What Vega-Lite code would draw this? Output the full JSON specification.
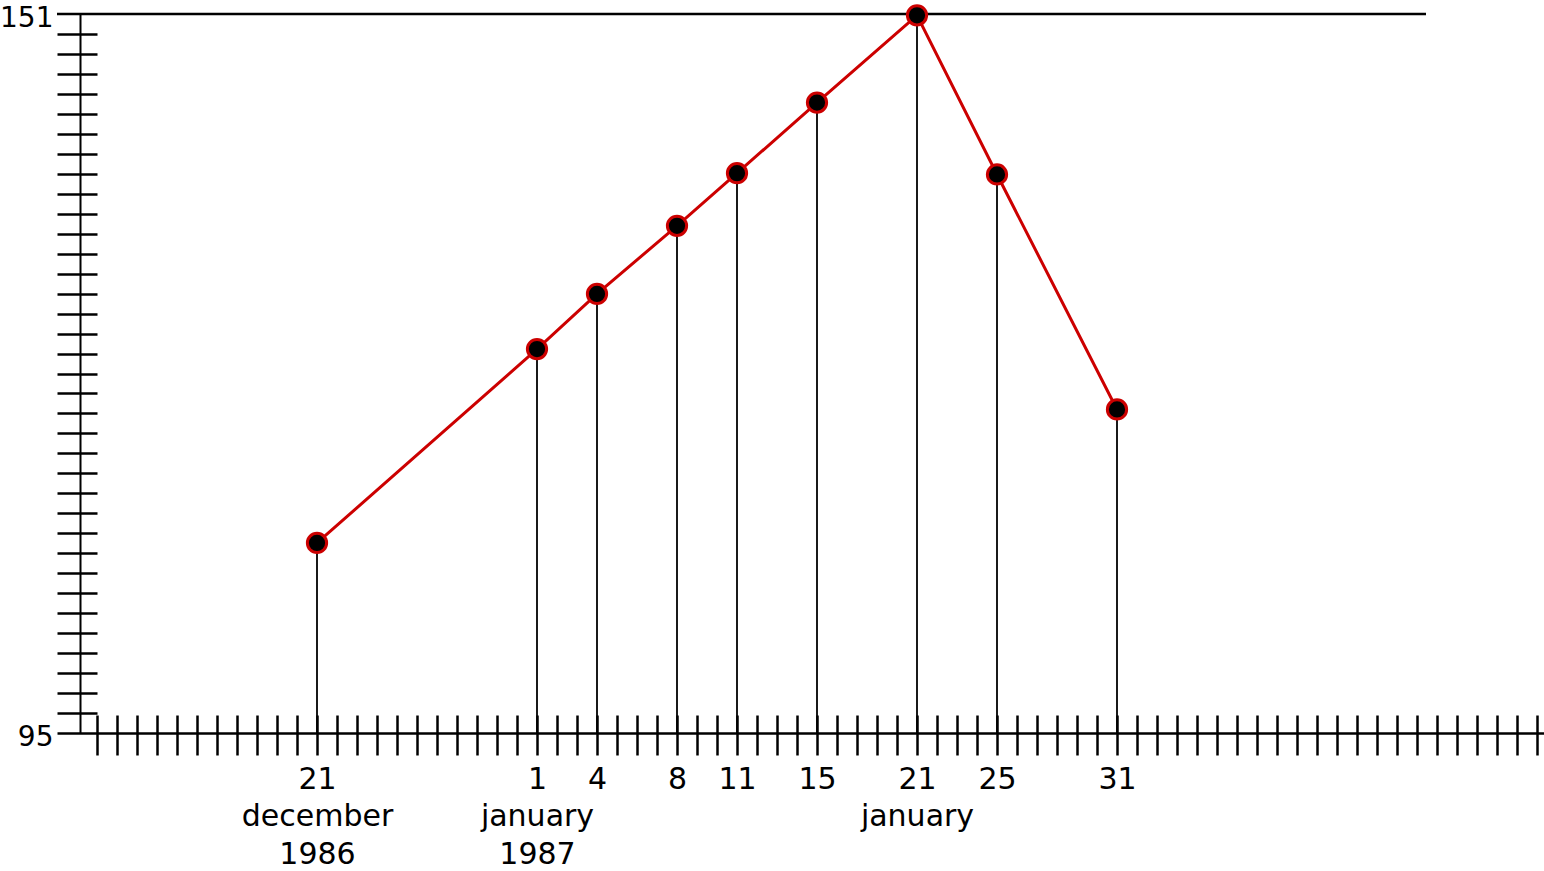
{
  "$schema": "https://vega.github.io/schema/vega-lite/v6.json",
  "width": 1487,
  "height": 719,
  "autosize": {"type": "none"},
  "padding": {"left": 57, "top": 14, "right": 0, "bottom": 138},
  "background": "white",
  "config": {
    "view": {"stroke": null},
    "axis": {
      "grid": false,
      "title": null,
      "labelFont": "DejaVu Sans",
      "labelFontSize": 30,
      "labelColor": "black",
      "domainColor": "black",
      "tickColor": "black"
    }
  },
  "data": {
    "values": [
      {"date": "1986-12-21", "dayIndex": 11, "value": 109.8},
      {"date": "1987-01-01", "dayIndex": 22, "value": 124.9},
      {"date": "1987-01-04", "dayIndex": 25, "value": 129.2},
      {"date": "1987-01-08", "dayIndex": 29, "value": 134.5},
      {"date": "1987-01-11", "dayIndex": 32, "value": 138.6},
      {"date": "1987-01-15", "dayIndex": 36, "value": 144.1},
      {"date": "1987-01-21", "dayIndex": 41, "value": 150.9},
      {"date": "1987-01-25", "dayIndex": 45, "value": 138.5},
      {"date": "1987-01-31", "dayIndex": 51, "value": 120.2}
    ]
  },
  "resolve": {"axis": {"x": "independent", "y": "independent"}},
  "layer": [
    {
      "data": {"values": [{}]},
      "mark": {"type": "rule", "color": "black", "strokeWidth": 2.5},
      "encoding": {
        "x": {"datum": -2, "type": "quantitative", "axis": null},
        "x2": {"datum": 66.45},
        "y": {"datum": 151, "type": "quantitative", "axis": null}
      }
    },
    {
      "mark": {"type": "rule", "color": "black", "strokeWidth": 1.8},
      "encoding": {
        "x": {
          "field": "dayIndex",
          "type": "quantitative",
          "scale": {"domain": [-2, 72.35], "nice": false, "zero": false},
          "axis": {
            "orient": "bottom",
            "offset": -18,
            "tickSize": 40,
            "tickWidth": 2.5,
            "domain": false,
            "labels": false,
            "values": [0,1,2,3,4,5,6,7,8,9,10,11,12,13,14,15,16,17,18,19,20,21,22,23,24,25,26,27,28,29,30,31,32,33,34,35,36,37,38,39,40,41,42,43,44,45,46,47,48,49,50,51,52,53,54,55,56,57,58,59,60,61,62,63,64,65,66,67,68,69,70,71,72]
          }
        },
        "y": {
          "field": "value",
          "type": "quantitative",
          "scale": {"domain": [95, 151], "nice": false, "zero": false},
          "axis": {
            "orient": "left",
            "offset": -40,
            "tickSize": 40,
            "tickWidth": 2.5,
            "domain": false,
            "labels": false,
            "values": [96.556,98.111,99.667,101.222,102.778,104.333,105.889,107.444,109.0,110.556,112.111,113.667,115.222,116.778,118.333,119.889,121.444,123.0,124.556,126.111,127.667,129.222,130.778,132.333,133.889,135.444,137.0,138.556,140.111,141.667,143.222,144.778,146.333,147.889,149.444]
          }
        },
        "y2": {"datum": 95}
      }
    },
    {
      "mark": {"type": "line", "color": "#cc0000", "strokeWidth": 3},
      "encoding": {
        "x": {
          "field": "dayIndex",
          "type": "quantitative",
          "axis": {
            "orient": "bottom",
            "offset": 0,
            "ticks": false,
            "tickSize": 0,
            "domain": true,
            "domainWidth": 2.5,
            "values": [11, 22, 25, 29, 32, 36, 41, 45, 51],
            "labelPadding": 31,
            "labelLineHeight": 37.5,
            "labelAlign": "center",
            "labelOverlap": false,
            "labelFlush": false,
            "labelBound": false,
            "labelExpr": "datum.value == 11 ? ['21', 'december', '1986'] : datum.value == 22 ? ['1', 'january', '1987'] : datum.value == 25 ? '4' : datum.value == 29 ? '8' : datum.value == 32 ? '11' : datum.value == 36 ? '15' : datum.value == 41 ? ['21', 'january'] : datum.value == 45 ? '25' : '31'"
          }
        },
        "y": {
          "field": "value",
          "type": "quantitative",
          "axis": {
            "orient": "left",
            "offset": -23,
            "ticks": false,
            "tickSize": 0,
            "domain": true,
            "domainWidth": 2,
            "values": [95, 151],
            "labelFontSize": 28,
            "labelPadding": 27,
            "labelOffset": 4,
            "labelBaseline": "middle",
            "labelOverlap": false,
            "labelFlush": false,
            "labelBound": false
          }
        }
      }
    },
    {
      "mark": {"type": "point", "shape": "circle", "filled": true, "fill": "black", "stroke": "#cc0000", "strokeWidth": 3, "size": 370, "opacity": 1},
      "encoding": {
        "x": {"field": "dayIndex", "type": "quantitative", "axis": null},
        "y": {"field": "value", "type": "quantitative", "axis": null}
      }
    }
  ]
}
